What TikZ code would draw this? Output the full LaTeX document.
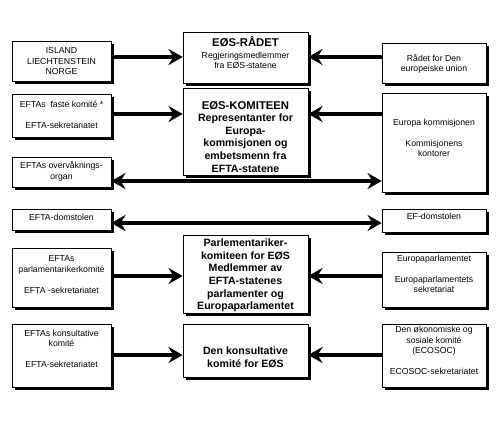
\documentclass[tikz,border=0pt]{standalone}
\usepackage{fontspec}
\setmainfont{Liberation Sans}
\usetikzlibrary{arrows.meta,shadows}
\begin{document}
\begin{tikzpicture}[x=1pt,y=-1pt,
  box/.style={draw=black, line width=1pt, fill=white, inner sep=0pt,
    drop shadow={shadow xshift=2.5pt, shadow yshift=-2.5pt, fill=black, opacity=1}},
  lbox/.style={box, minimum width=99pt},
  cbox/.style={box, minimum width=125pt},
  rbox/.style={box, minimum width=104pt},
  stxt/.style={align=center, inner sep=0pt, font=\fontsize{8.7}{10.5}\selectfont},
  ctxt/.style={align=center, inner sep=0pt, font=\bfseries\fontsize{10.6}{12.6}\selectfont},
  tip/.tip={Stealth[length=14pt, width=16pt, inset=5pt, line width=0.1pt]},
  arr/.style={line width=3.8pt, -tip},
  darr/.style={line width=3.8pt, tip-tip}
]
\useasboundingbox[fill=white] (0,0) rectangle (500,423);

% left boxes
\node[lbox, minimum height=40pt] (l1) at (61.5,61) {};
\node[lbox, minimum height=43pt] (l2) at (61.5,115.5) {};
\node[lbox, minimum height=30pt] (l3) at (61.5,172) {};
\node[lbox, minimum height=21pt] (l4) at (61.5,219.5) {};
\node[lbox, minimum height=59pt] (l5) at (61.5,277.5) {};
\node[lbox, minimum height=63pt] (l6) at (61.5,355.5) {};
% center boxes
\node[cbox, minimum height=51pt] (c1) at (245.5,57.5) {};
\node[cbox, minimum height=87pt] (c2) at (245.5,131.5) {};
\node[cbox, minimum height=78pt] (c3) at (245.5,274) {};
\node[cbox, minimum height=53pt] (c4) at (245.5,350.5) {};
% right boxes
\node[rbox, minimum height=40pt] (r1) at (434,63) {};
\node[rbox, minimum height=99pt] (r2) at (434,142.5) {};
\node[rbox, minimum height=23pt] (r3) at (434,220.5) {};
\node[rbox, minimum height=55pt] (r4) at (434,279.5) {};
\node[rbox, minimum height=63pt] (r5) at (434,355.5) {};

% texts
\node[stxt] (tl1) at (61.5,61.5) {ISLAND\\LIECHTENSTEIN\\NORGE};
\node[stxt] (tl2) at (61.5,114.5) {EFTAs\ \ faste komité *\\[10.5pt]EFTA-sekretariatet};
\node[stxt] (tl3) at (61.5,171.5) {EFTAs overvåknings-\\organ};
\node[stxt] (tl4) at (61.5,217.5) {EFTA-domstolen};
\node[stxt] (tl5) at (61.5,274.5) {EFTAs\\parlamentarikerkomité\\[10.5pt]EFTA -sekretariatet};
\node[stxt] (tl6) at (61.5,349) {EFTAs konsultative\\komité\\[10.5pt]EFTA-sekretariatet};

\node[stxt] (tc1) at (245.5,52.5) {{\bfseries\fontsize{11.3}{12.6}\selectfont EØS-RÅDET}\\[1.5pt]Regjeringsmedlemmer\\fra EØS-statene};
\node[ctxt] (tc2) at (245.5,136.5) {{\fontsize{11.3}{12.6}\selectfont EØS-KOMITEEN}\\Representanter for\\Europa-\\kommisjonen og\\embetsmenn fra\\EFTA-statene};
\node[ctxt] (tc3) at (245.5,275.5) {Parlementariker-\\komiteen for EØS\\Medlemmer av\\EFTA-statenes\\parlamenter og\\Europaparlamentet};
\node[ctxt] (tc4) at (245.5,357.5) {Den konsultative\\komité for EØS};

\node[stxt] (tr1) at (434,64) {Rådet for Den\\europeiske union};
\node[stxt] (tr2) at (434,138) {Europa kommisjonen\\[10.5pt]Kommisjonens\\kontorer};
\node[stxt] (tr3) at (434,216.5) {EF-domstolen};
\node[stxt] (tr4) at (434,274) {Europaparlamentet\\[10.5pt]Europaparlamentets\\sekretariat};
\node[stxt] (tr5) at (434,350.5) {Den økonomiske og\\sosiale komité\\(ECOSOC)\\[10.5pt]ECOSOC-sekretariatet};

% arrow levels
\coordinate (y1) at (0,57);
\coordinate (y2) at (0,114);
\coordinate (y3) at (0,181);
\coordinate (y4) at (0,223);
\coordinate (y5) at (0,276);
\coordinate (y6) at (0,355);

\draw[arr] (l1.east |- y1) -- (c1.west |- y1);
\draw[arr] (r1.west |- y1) -- (c1.east |- y1);
\draw[arr] (l2.east |- y2) -- (c2.west |- y2);
\draw[arr] (r2.west |- y2) -- (c2.east |- y2);
\draw[darr] (l3.east |- y3) -- (r2.west |- y3);
\draw[darr] (l4.east |- y4) -- (r3.west |- y4);
\draw[arr] (l5.east |- y5) -- (c3.west |- y5);
\draw[arr] (r4.west |- y5) -- (c3.east |- y5);
\draw[arr] (l6.east |- y6) -- (c4.west |- y6);
\draw[arr] (r5.west |- y6) -- (c4.east |- y6);
\end{tikzpicture}
\end{document}
